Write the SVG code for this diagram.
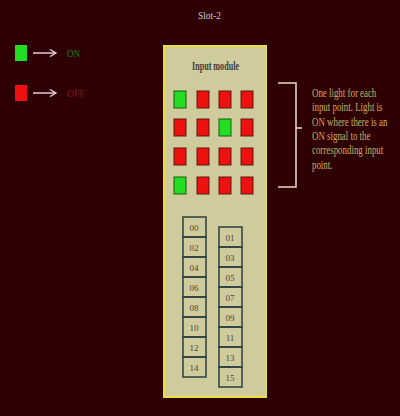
<svg xmlns="http://www.w3.org/2000/svg" width="400" height="416" viewBox="0 0 400 416">
<defs>
<style>
.led{stroke:#5a1a10;stroke-width:1}
.on{fill:#22dd22;stroke:#1a5a10}
.off{fill:#ee1111}
.cell{fill:none;stroke:#2a4040;stroke-width:1.5}
.tl{font-family:"Liberation Serif",serif;font-size:9px;fill:#484838;text-anchor:middle}
.note{font-family:"Liberation Serif",serif;font-size:12px;fill:#c8b060}
.arrow{stroke:#e8c8cc;stroke-width:1.5;fill:none}
</style>
<marker id="ah" markerWidth="8" markerHeight="8" refX="7" refY="4" orient="auto" markerUnits="userSpaceOnUse">
<path d="M1,0.5 L7,4 L1,7.5" fill="none" stroke="#e8c8cc" stroke-width="1.3"/>
</marker>
</defs>
<rect width="400" height="416" fill="#2e0003"/>
<text x="198" y="19" font-family="Liberation Serif,serif" font-size="11" fill="#d8c8d0" textLength="23" lengthAdjust="spacingAndGlyphs">Slot-2</text>

<g id="legend-on">
<rect x="15" y="45" width="12" height="16" fill="#22dd22"/>
<text x="67" y="57" font-family="Liberation Serif,serif" font-size="11" fill="#2a7a2a" textLength="13" lengthAdjust="spacingAndGlyphs">ON</text>
</g>
<g id="legend-off">
<rect x="15" y="85" width="12" height="16" fill="#ee1111"/>
<text x="67" y="97" font-family="Liberation Serif,serif" font-size="11" fill="#8a1414" textLength="18" lengthAdjust="spacingAndGlyphs">OFF</text>
</g>

<g id="module">
<rect x="164" y="46" width="102" height="351" fill="#cfcb9c" stroke="#e8e040" stroke-width="2"/>
<text x="192" y="70" font-family="Liberation Serif,serif" font-size="12" font-weight="bold" fill="#404040" textLength="47" lengthAdjust="spacingAndGlyphs">Input module</text>
</g>

<g id="leds">
<rect class="led on" x="174" y="91" width="12" height="17"/>
<rect class="led off" x="197" y="91" width="12" height="17"/>
<rect class="led off" x="219" y="91" width="12" height="17"/>
<rect class="led off" x="241" y="91" width="12" height="17"/>
<rect class="led off" x="174" y="119" width="12" height="17"/>
<rect class="led off" x="197" y="119" width="12" height="17"/>
<rect class="led on" x="219" y="119" width="12" height="17"/>
<rect class="led off" x="241" y="119" width="12" height="17"/>
<rect class="led off" x="174" y="148" width="12" height="17"/>
<rect class="led off" x="197" y="148" width="12" height="17"/>
<rect class="led off" x="219" y="148" width="12" height="17"/>
<rect class="led off" x="241" y="148" width="12" height="17"/>
<rect class="led on" x="174" y="177" width="12" height="17"/>
<rect class="led off" x="197" y="177" width="12" height="17"/>
<rect class="led off" x="219" y="177" width="12" height="17"/>
<rect class="led off" x="241" y="177" width="12" height="17"/>
</g>

<g id="terminals-even">
<rect class="cell" x="183" y="217" width="23" height="20"/>
<rect class="cell" x="183" y="237" width="23" height="20"/>
<rect class="cell" x="183" y="257" width="23" height="20"/>
<rect class="cell" x="183" y="277" width="23" height="20"/>
<rect class="cell" x="183" y="297" width="23" height="20"/>
<rect class="cell" x="183" y="317" width="23" height="20"/>
<rect class="cell" x="183" y="337" width="23" height="20"/>
<rect class="cell" x="183" y="357" width="23" height="20"/>
<text class="tl" x="194" y="231">00</text>
<text class="tl" x="194" y="251">02</text>
<text class="tl" x="194" y="271">04</text>
<text class="tl" x="194" y="291">06</text>
<text class="tl" x="194" y="311">08</text>
<text class="tl" x="194" y="331">10</text>
<text class="tl" x="194" y="351">12</text>
<text class="tl" x="194" y="371">14</text>
</g>
<g id="terminals-odd">
<rect class="cell" x="219" y="227" width="23" height="20"/>
<rect class="cell" x="219" y="247" width="23" height="20"/>
<rect class="cell" x="219" y="267" width="23" height="20"/>
<rect class="cell" x="219" y="287" width="23" height="20"/>
<rect class="cell" x="219" y="307" width="23" height="20"/>
<rect class="cell" x="219" y="327" width="23" height="20"/>
<rect class="cell" x="219" y="347" width="23" height="20"/>
<rect class="cell" x="219" y="367" width="23" height="20"/>
<text class="tl" x="230" y="241">01</text>
<text class="tl" x="230" y="261">03</text>
<text class="tl" x="230" y="281">05</text>
<text class="tl" x="230" y="301">07</text>
<text class="tl" x="230" y="321">09</text>
<text class="tl" x="230" y="341">11</text>
<text class="tl" x="230" y="361">13</text>
<text class="tl" x="230" y="381">15</text>
</g>

<g id="note" transform="translate(312,0) scale(0.74,1)">
<text class="note" x="0" y="97">One light for each</text>
<text class="note" x="0" y="111">input point. Light is</text>
<text class="note" x="0" y="126">ON where there is an</text>
<text class="note" x="0" y="140">ON signal to the</text>
<text class="note" x="0" y="154">corresponding input</text>
<text class="note" x="0" y="169">point.</text>
</g>

<g id="connectors">
<line class="arrow" x1="33" y1="53" x2="56" y2="53" marker-end="url(#ah)"/>
<line class="arrow" x1="33" y1="93" x2="56" y2="93" marker-end="url(#ah)"/>
<path d="M278,83 H296 V187 H278 M296,128 H302" fill="none" stroke="#f0dcc0" stroke-width="1.5"/>
</g>
</svg>
